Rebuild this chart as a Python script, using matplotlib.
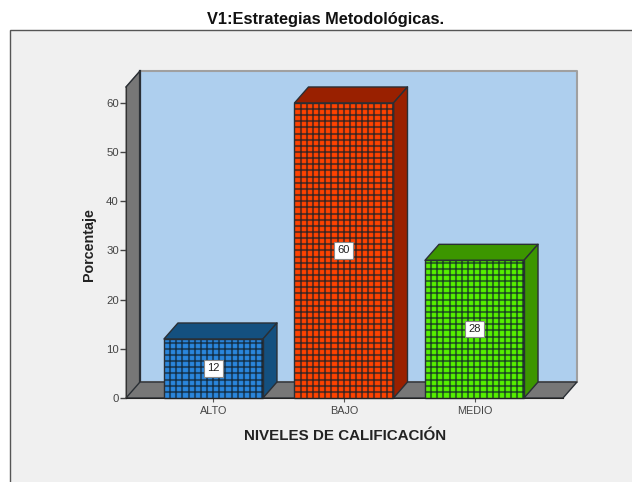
import numpy as np
import matplotlib
matplotlib.use("Agg")
import matplotlib.pyplot as plt
from matplotlib.patches import Polygon, Rectangle

plt.rcParams['font.family'] = ['Liberation Sans', 'DejaVu Sans']

title = "V1:Estrategias Metodológicas."
categories = ["ALTO", "BAJO", "MEDIO"]
values = [12, 60, 28]
yticks = [0, 10, 20, 30, 40, 50, 60]
xlabel = "NIVELES DE CALIFICACIÓN"
ylabel = "Porcentaje"
front_colors = ["#2a86dc", "#ff4200", "#55f000"]
side_colors = ["#14507f", "#992000", "#3c9600"]

W, H = 632, 482
fig = plt.figure(figsize=(W / 100, H / 100), dpi=100, facecolor="white")

# chart panel
fig.add_artist(Rectangle((9.5 / W, -0.01), 1.0, (H - 29.5) / H + 0.01, transform=fig.transFigure,
                         facecolor="#f0f0f0", edgecolor="#555555", linewidth=1.0, zorder=-1))
fig.text(326 / W, 1 - 19.5 / H, title, ha="center", va="center", fontsize=11.8,
         color="#111111", fontweight="bold")

ax = fig.add_axes([126 / W, (H - 398) / H, 437 / W, 311 / H])
ax.set_xlim(-0.67, 2.678)
ax.set_ylim(0, 63.25)
ax.patch.set_alpha(0)
for s in ["top", "right"]:
    ax.spines[s].set_visible(False)
ax.spines["left"].set_color("#333333")
ax.spines["bottom"].set_color("#222222")

dx = 14 / 130.5   # depth offset in data units
dy = 16 / 4.917
x0, x1 = ax.get_xlim()
y0, y1 = ax.get_ylim()
edge = "#2a2f35"


def poly(pts, fc, ec=edge, lw=1.0, z=1):
    ax.add_patch(Polygon(pts, closed=True, facecolor=fc, edgecolor=ec, linewidth=lw,
                         zorder=z, clip_on=False, joinstyle="round"))


# back wall, side wall, floor
poly([(x0 + dx, dy), (x1 + dx, dy), (x1 + dx, y1 + dy), (x0 + dx, y1 + dy)], "#aecfee",
     ec="#a0a0a0", lw=1.5, z=1)
poly([(x0, 0), (x0 + dx, dy), (x0 + dx, y1 + dy), (x0, y1)], "#777777", ec="#777777", z=2)
ax.plot([x0, x0 + dx], [y1, y1 + dy], color="#2a2f35", lw=1.0, zorder=2, clip_on=False)
ax.plot([x0 + dx, x0 + dx], [dy, y1 + dy], color="#2a2f35", lw=1.6, zorder=2, clip_on=False)
poly([(x0, 0), (x1, 0), (x1 + dx, dy), (x0 + dx, dy)], "#777777", z=2)

bw = 99 / 130.5
xs = np.arange(len(categories))
step_x = 6.15 / 130.5
step_y = 6.15 / 4.917
for xc, v, fc, sc in zip(xs, values, front_colors, side_colors):
    l, r = xc - bw / 2, xc + bw / 2
    ax.bar(xc, v, width=bw, color=fc, edgecolor="none", zorder=3, clip_on=False)
    poly([(l, v), (r, v), (r + dx, v + dy), (l + dx, v + dy)], sc, z=3)
    poly([(r, 0), (r, v), (r + dx, v + dy), (r + dx, dy)], sc, z=3)
    ax.vlines(np.arange(l + step_x, r, step_x), 0, v, color="#10202a", alpha=0.6, lw=1.5, zorder=4)
    ax.hlines(np.arange(step_y, v, step_y), l, r, color="#10202a", alpha=0.6, lw=1.5, zorder=4)
    ax.add_patch(Rectangle((l, 0), bw, v, facecolor="none", edgecolor=edge, lw=1.0, zorder=5, clip_on=False))
    ax.text(xc, v / 2, str(v), ha="center", va="center", fontsize=8, color="#222222", zorder=6,
            bbox=dict(boxstyle="square,pad=0.3", facecolor="white", edgecolor="#8a8a8a", linewidth=0.8))

ax.set_xticks(xs, categories)
ax.set_yticks(yticks)
ax.tick_params(axis="x", length=3.2, width=0.8, color="#555555", labelsize=7.8, labelcolor="#444444", pad=2.5)
ax.tick_params(axis="y", length=4.3, width=1.0, color="#444444", labelsize=8.2, labelcolor="#444444", pad=0.8)
ax.set_axisbelow(False)
for s in ax.spines.values():
    s.set_zorder(7)

fig.text(345 / W, 1 - 435.5 / H, xlabel, ha="center", va="center", fontsize=10.9,
         fontweight="bold", color="#222222")
fig.text(89 / W, 1 - 244.5 / H, ylabel, ha="center", va="center", rotation=90, fontsize=10.3,
         fontweight="bold", color="#222222")

fig.savefig("out.png", dpi=100, facecolor=fig.get_facecolor())
